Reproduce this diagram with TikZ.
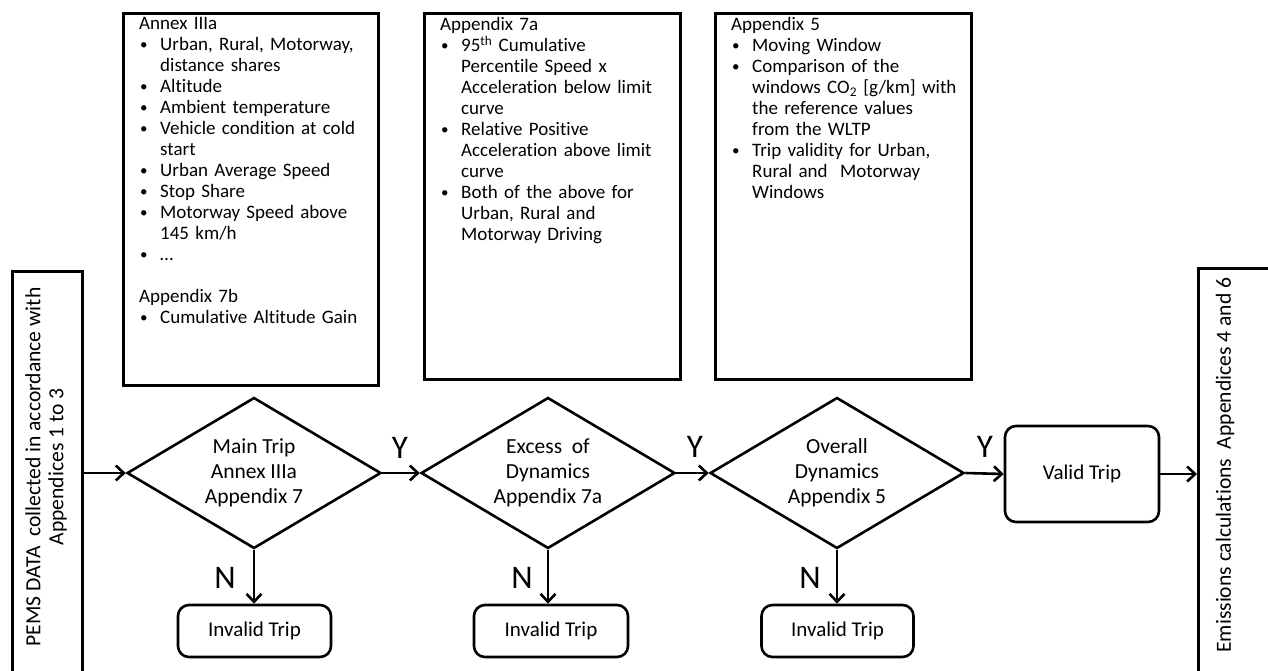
\documentclass[tikz,border=0pt]{standalone}
\usepackage{fontspec}
\setmainfont{Carlito}[Ligatures=NoCommon]
\usetikzlibrary{shapes.geometric,arrows.meta}
\newcommand\blt[1]{\par\hangindent=21pt\hangafter=1\noindent\makebox[21pt][l]{\hspace{1pt}\raisebox{0.5pt}{\fontsize{15}{15}\selectfont\textbullet}}#1\par}
\tikzset{
  lw/.style={line width=2.6pt},
  infobox/.style={draw,lw,rectangle,anchor=north west,inner sep=0pt},
  infotext/.style={anchor=north west,inner sep=0pt,text width=248pt,align=left,font=\fontsize{19}{21}\selectfont},
  decision/.style={draw,lw,diamond,aspect=1.7,inner sep=0pt,minimum width=254pt,minimum height=151pt,align=center,font=\fontsize{21.5}{25}\selectfont},
  tripbox/.style={draw,lw,rounded corners=11pt,inner sep=0pt,font=\fontsize{21}{25}\selectfont},
  sidebox/.style={draw,lw,rectangle,anchor=north west,inner sep=0pt},
  sidetext/.style={rotate=90,align=center,inner sep=0pt,font=\fontsize{21.6}{23}\selectfont},
  yn/.style={inner sep=0pt,font=\fontsize{33}{33}\selectfont},
  flow/.style={lw,-{Straight Barb[length=8pt,width=15pt,line width=2.6pt]}}
}
\begin{document}
\begin{tikzpicture}[x=1pt,y=-1pt]
\useasboundingbox (0,0) rectangle (1268,671);
\fill[white] (0,0) rectangle (1268,671);

% side boxes
\node[sidebox,minimum width=70pt,minimum height=440pt] (lb) at (11,270) {};
\node[sidetext] (lbt) at (46,467) {PEMS DATA\ \ collected in accordance with\\Appendices 1 to 3};
\node[sidebox,minimum width=110pt,minimum height=440pt] (rb) at (1197,267) {};
\node[sidetext] (rbt) at (1225,465) {Emissions calculations\ \ Appendices 4 and 6};

% info boxes
\node[infobox,minimum width=255pt,minimum height=372pt] (b1) at (122,12) {};
\node[infotext] (t1) at (139,17) {Annex IIIa
\blt{Urban, Rural, Motorway,\newline distance shares}
\blt{Altitude}
\blt{Ambient temperature}
\blt{Vehicle condition at cold\newline start}
\blt{Urban Average Speed}
\blt{Stop Share}
\blt{Motorway Speed above\newline 145 km/h}
\blt{\ldots}
\noindent\mbox{}\par
\noindent Appendix 7b
\blt{Cumulative Altitude Gain}};

\node[infobox,minimum width=256pt,minimum height=366pt] (b2) at (423,12) {};
\node[infotext] (t2) at (440,17) {Appendix 7a
\blt{95\textsuperscript{th} Cumulative\newline Percentile Speed x\newline Acceleration below limit\newline curve}
\blt{Relative Positive\newline Acceleration above limit\newline curve}
\blt{Both of the above for\newline Urban, Rural and\newline Motorway Driving}};

\node[infobox,minimum width=256pt,minimum height=366pt] (b3) at (714,12) {};
\node[infotext] (t3) at (731,17) {Appendix 5
\blt{Moving Window}
\blt{Comparison of the\newline windows CO\textsubscript{2} [g/km] with\newline the reference values\newline from the WLTP}
\blt{Trip validity for Urban,\newline Rural and\ \ Motorway\newline Windows}};

% decisions
\node[decision] (d1) at (254,473) {Main Trip\\Annex IIIa\\Appendix 7};
\node[decision] (d2) at (548,473) {Excess\ \ of\\Dynamics\\Appendix 7a};
\node[decision] (d3) at (837,473) {Overall\\Dynamics\\Appendix 5};

% trip boxes
\node[tripbox,minimum width=154pt,minimum height=96pt] (vt) at (1082,474) {Valid Trip};
\node[tripbox,minimum width=153pt,minimum height=52pt] (i1) at (254.5,631) {Invalid Trip};
\node[tripbox,minimum width=154pt,minimum height=52pt] (i2) at (551,631) {Invalid Trip};
\node[tripbox,minimum width=152pt,minimum height=52pt] (i3) at (837.5,631) {Invalid Trip};

% labels
\node[yn] (y1) at (400,448) {Y};
\node[yn] (y2) at (695,447) {Y};
\node[yn] (y3) at (985,447) {Y};
\node[yn] (n1) at (225,578) {N};
\node[yn] (n2) at (522,578) {N};
\node[yn] (n3) at (810,578) {N};

% connectors
\draw[flow] (d1.west -| lb.east) -- (d1.west);
\draw[flow] (d1.east) -- (d2.west);
\draw[flow] (d2.east) -- (d3.west);
\draw[flow] (d3.east) -- (vt.west);
\draw[flow] (vt.east) -- (vt.east -| rb.west);
\draw[flow] (d1.south) -- (d1.south |- i1.north);
\draw[flow] (d2.south) -- (d2.south |- i2.north);
\draw[flow] (d3.south) -- (d3.south |- i3.north);
\end{tikzpicture}
\end{document}
